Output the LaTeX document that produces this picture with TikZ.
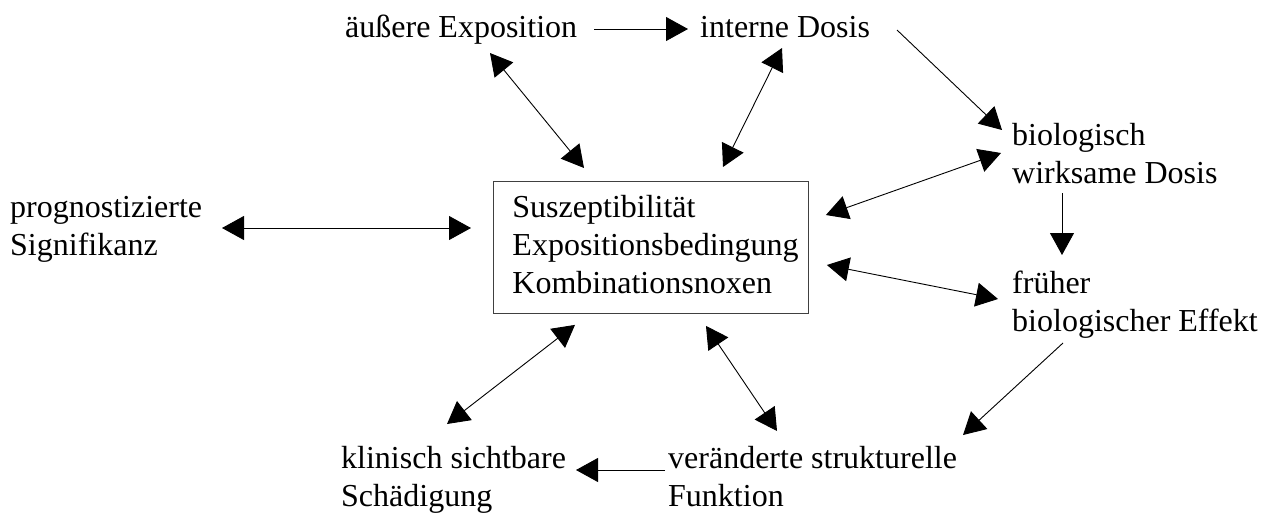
\documentclass[tikz,border=0pt]{standalone}
\usepackage{fontspec}
\setmainfont{Liberation Serif}
\usetikzlibrary{arrows.meta}
\begin{document}
\begin{tikzpicture}[x=1pt,y=-1pt,
  txt/.style={font=\fontsize{32}{38}\selectfont},
  lbl/.style={txt, anchor=base west, inner sep=0pt, align=left},
  arr/.style={-{Triangle[length=22pt,width=24pt]}, line width=0.9pt},
  darr/.style={{Triangle[length=22pt,width=24pt]}-{Triangle[length=22pt,width=24pt]}, line width=0.9pt},
  ]
\useasboundingbox (0,0) rectangle (1269,520);

% text nodes, placed at the baseline of their last line
\node[lbl] (aus)   at (345,37)  {äußere Exposition};
\node[lbl] (intd)  at (700,37)  {interne Dosis};
\node[lbl] (biod)  at (1012,183) {biologisch\\wirksame Dosis};
\node[lbl] (frueh) at (1012,331) {früher\\biologischer Effekt};
\node[lbl] (ver)   at (668,506) {veränderte strukturelle\\Funktion};
\node[lbl] (klin)  at (341,506) {klinisch sichtbare\\Schädigung};
\node[lbl] (prog)  at (10,255)  {prognostizierte\\Signifikanz};

% central framed node
\node[txt, draw=black!75, line width=0.9pt, anchor=north west,
      inner xsep=19pt, inner ysep=0pt, text width=277pt,
      minimum height=132pt, align=left] (box) at (493,181)
  {\strut Suszeptibilität\\Expositionsbedingung\\Kombinationsnoxen\strut};

% one-way chain
\draw[arr] ([shift={(249,-8)}]aus.base west) -- ([shift={(-12,-8)}]intd.base west);
\draw[arr] ([shift={(197,-7)}]intd.base west) -- ([shift={(-10,-53)}]biod.base west);
\draw[arr] ([shift={(50,10)}]biod.base west) -- ([shift={(50,-76)}]frueh.base west);
\draw[arr] ([shift={(51,12)}]frueh.base west) -- ([shift={(295,-71)}]ver.base west);
\draw[arr] ([shift={(-3,-36)}]ver.base west) -- ([shift={(235,-36)}]klin.base west);

% two-way links with the central node
\draw[darr] ([shift={(212,-27)}]prog.base west) -- ([shift={(-22,47)}]box.north west);
\draw[darr] ([shift={(145,16)}]aus.base west) -- ([shift={(91,-13)}]box.north west);
\draw[darr] ([shift={(82,11)}]intd.base west) -- ([shift={(230,-14)}]box.north west);
\draw[darr] ([shift={(17,34)}]box.north east) -- ([shift={(-11,-30)}]biod.base west);
\draw[darr] ([shift={(18,84)}]box.north east) -- ([shift={(-14,-32)}]frueh.base west);
\draw[darr] ([shift={(82,11)}]box.south west) -- ([shift={(106,-82)}]klin.base west);
\draw[darr] ([shift={(213,12)}]box.south west) -- ([shift={(109,-75)}]ver.base west);
\end{tikzpicture}
\end{document}
